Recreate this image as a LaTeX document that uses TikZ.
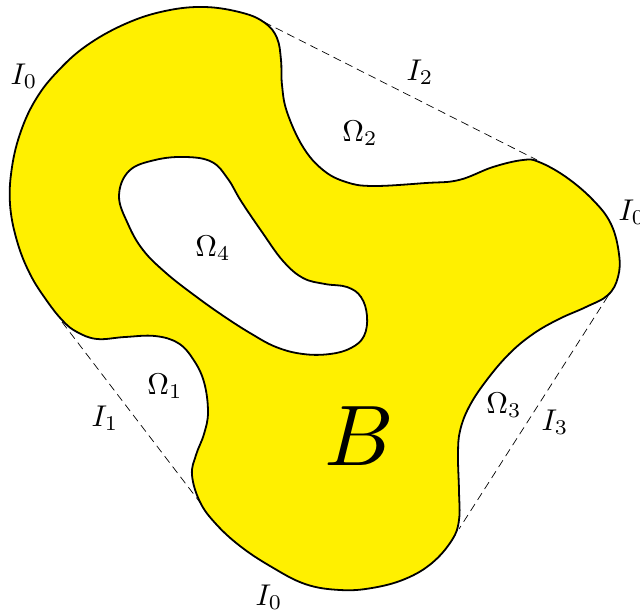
\documentclass[tikz,border=0pt]{standalone}
\usepackage{graphicx}
\newcommand{\bigmath}[1]{\scalebox{3}{$#1$}}
\begin{document}
\begin{tikzpicture}[x=1pt,y=-1pt,
  region/.style={fill=byellow,draw=black,line width=1.8pt,even odd rule},
  hull/.style={draw=black,line width=0.7pt,dash pattern=on 8pt off 5pt},
  lab/.style={inner sep=0pt}]
\definecolor{byellow}{RGB}{255,240,0}
\useasboundingbox (0,0) rectangle (640,613);
\coordinate (d1a) at (264,22);
\coordinate (d1b) at (537,160);
\coordinate (d2a) at (62,322);
\coordinate (d2b) at (202,505);
\coordinate (d3a) at (608,296);
\coordinate (d3b) at (459,529);
\path[region]
  plot[smooth cycle,tension=0.65] coordinates {
    (205,7) (243,13) (265,23) (277,38) (281,60) (282,85) (287,112)
    (303,147) (323,170) (346,182) (373,186) (426,183) (459,180) (493,167)
    (523,160) (539,162) (566,177) (593,200) (611,224) (619,254) (618,277)
    (608,295) (586,307) (559,319) (533,334) (509,354) (486,381) (469,407)
    (460,431) (458,455) (459,491) (459,520) (452,540) (432,563) (405,579)
    (372,588) (340,590) (305,584) (270,566) (240,546) (216,524) (200,502)
    (192,475) (196,455) (204,434) (208,412) (204,382) (193,359)
    (178,343) (155,336) (125,337) (97,339) (77,332) (63,321) (47,301)
    (30,274) (17,241) (10,204) (12,167) (21,131) (36,99) (57,72) (86,46)
    (125,24) (165,11)}
  plot[smooth cycle,tension=0.65] coordinates {
    (119,196) (129,171) (155,160) (186,157) (212,162) (228,179) (241,201)
    (262,232) (283,261) (303,278) (325,284) (347,287) (361,297) (367,316)
    (364,336) (351,348) (330,354) (303,354) (276,347) (250,333) (222,315)
    (194,295) (166,273) (143,250) (128,224)};
\draw[hull] (d1a) -- (d1b);
\draw[hull] (d2a) -- (d2b);
\draw[hull] (d3a) -- (d3b);
\node[lab] (i0a) at (24,76) {\bigmath{I_0}};
\node[lab] (i2) at (420,72) {\bigmath{I_2}};
\node[lab] (o2) at (360,133) {\bigmath{\Omega_2}};
\node[lab] (i0b) at (632,212) {\bigmath{I_0}};
\node[lab] (o4) at (213,248) {\bigmath{\Omega_4}};
\node[lab] (o1) at (165,386) {\bigmath{\Omega_1}};
\node[lab] (i1) at (105,418) {\bigmath{I_1}};
\node[lab] (i0c) at (269,597) {\bigmath{I_0}};
\node[lab] (o3) at (504,405) {\bigmath{\Omega_3}};
\node[lab] (i3) at (555,422) {\bigmath{I_3}};
\node[lab] (b) at (359,436) {\scalebox{8.6}{$B$}};
\end{tikzpicture}
\end{document}
